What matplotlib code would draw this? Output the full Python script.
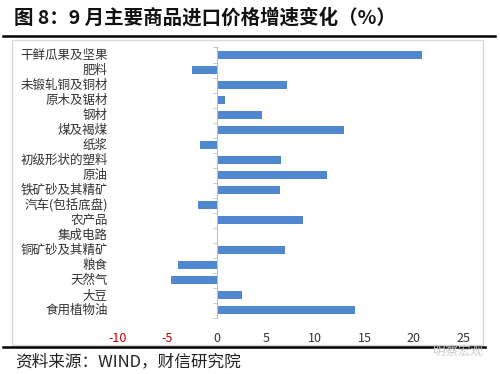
import matplotlib.pyplot as plt
import matplotlib.transforms as mtransforms
from matplotlib.patches import Rectangle
from matplotlib.lines import Line2D

plt.rcParams['font.family'] = ['Noto Sans CJK SC', 'DejaVu Sans']

categories = ['干鲜瓜果及坚果', '肥料', '未锻轧铜及铜材', '原木及锯材', '钢材', '煤及褐煤',
              '纸浆', '初级形状的塑料', '原油', '铁矿砂及其精矿', '汽车(包括底盘)', '农产品',
              '集成电路', '铜矿砂及其精矿', '粮食', '天然气', '大豆', '食用植物油']
values = [20.8, -2.5, 7.1, 0.9, 4.6, 12.9, -1.7, 6.5, 11.2, 6.4, -1.9, 8.8,
          0.1, 6.9, -3.9, -4.6, 2.6, 14.0]
xticks = [-10, -5, 0, 5, 10, 15, 20, 25]

fig = plt.figure(figsize=(5, 3.74), dpi=100)
ax = fig.add_axes([0.236, 0.150, 0.69, 0.723])

pos = list(range(len(categories)))
ax.barh(pos, values, height=0.52, color='#4F88CF')
ax.set_ylim(len(categories) - 0.5, -0.5)
ax.set_xlim(-10, 25)

for s in ['top', 'right', 'bottom']:
    ax.spines[s].set_visible(False)
ax.spines['left'].set_position(('data', 0))
ax.spines['left'].set_color('#BFBFBF')

ax.set_yticks(pos)
ax.set_yticklabels([])
ax.tick_params(axis='y', which='major', length=0)
ax.set_yticks([p - 0.5 for p in pos] + [len(pos) - 0.5], minor=True)
ax.tick_params(axis='y', which='minor', length=3, color='#BFBFBF', direction='out')

trans = mtransforms.blended_transform_factory(ax.transAxes, ax.transData)
for i, name in enumerate(categories):
    ax.text(-0.03, i, name, transform=trans, ha='right', va='center', fontsize=9, color='#333333')

ax.set_xticks(xticks)
ax.set_xticklabels([str(t) for t in xticks], fontsize=9)
ax.tick_params(axis='x', length=0, pad=10)
for lab, t in zip(ax.get_xticklabels(), xticks):
    lab.set_color('#C00000' if t < 0 else '#333333')

# chart frame and report decorations
fig.patches.append(Rectangle((0.024, 0.0775), 0.942, 0.8155, transform=fig.transFigure,
                             fill=False, edgecolor='#D9D9D9', linewidth=1))
fig.lines.append(Line2D([0.006, 0.99], [0.904, 0.904], transform=fig.transFigure,
                        color='black', linewidth=1.8))
fig.lines.append(Line2D([0.006, 0.97], [0.072, 0.072], transform=fig.transFigure,
                        color='black', linewidth=1.8))

fig.text(0.028, 0.952, '图 8：9 月主要商品进口价格增速变化（%）', fontsize=14,
         fontweight='bold', ha='left', va='center', color='#111111')
fig.text(0.03, 0.032, '资料来源：WIND，财信研究院', fontsize=12, style='italic',
         ha='left', va='center', color='#222222')
fig.text(0.965, 0.062, '明察宏观', fontsize=9, ha='right', va='center', color='#CCCCCC')

fig.savefig('out.png', dpi=100)
